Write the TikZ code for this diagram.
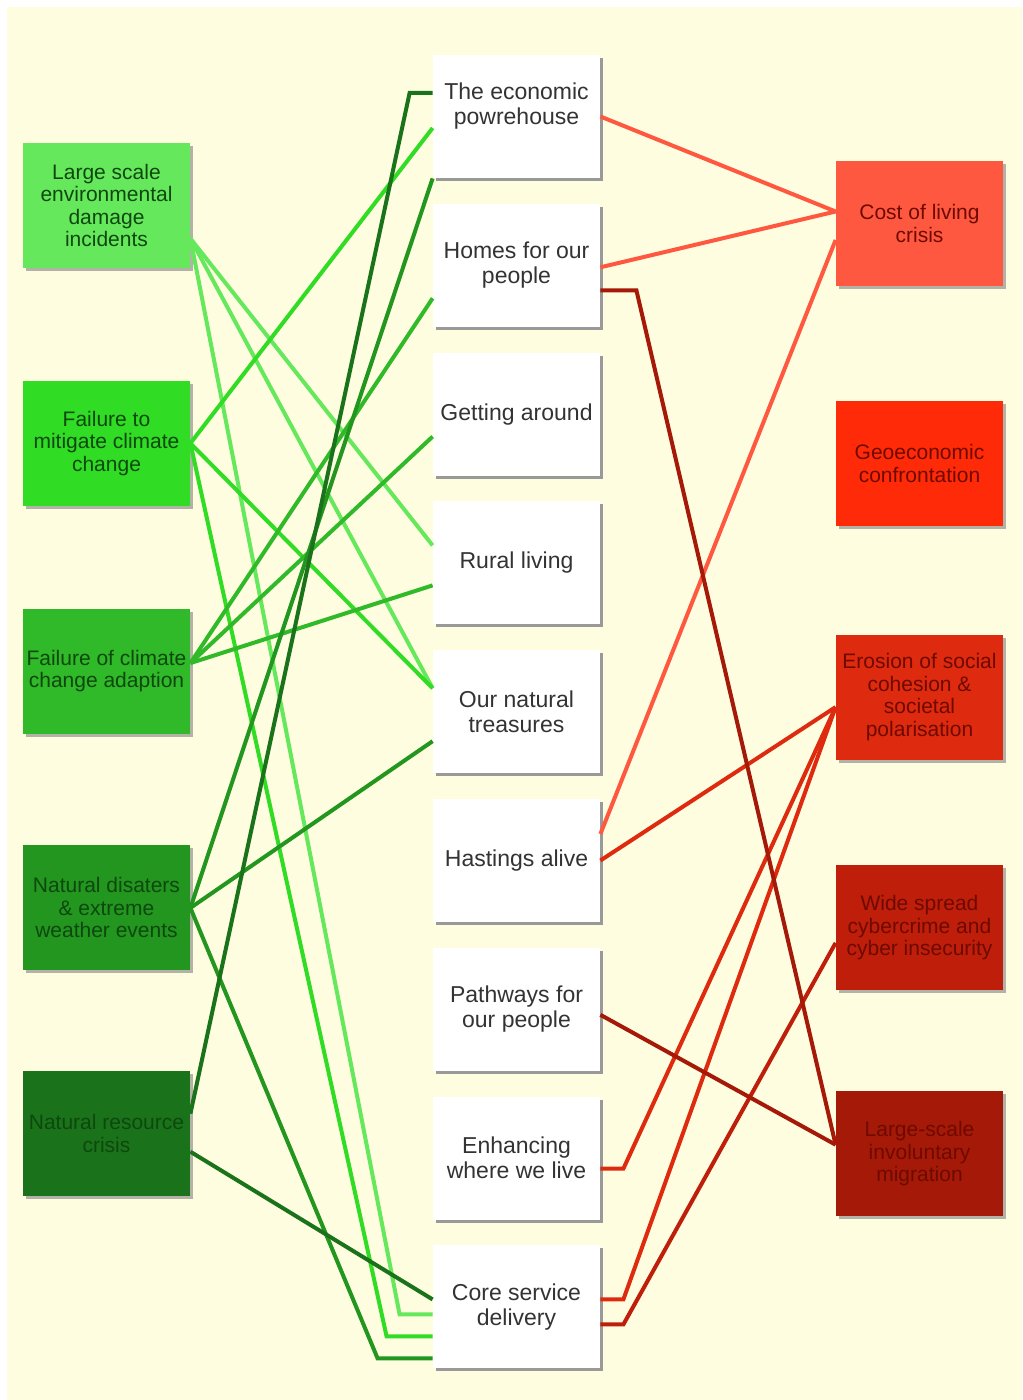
\documentclass[tikz,border=0pt]{standalone}
\usepackage{fontspec}
\setmainfont{Liberation Sans}
\usetikzlibrary{positioning, calc, shadows}
\usepackage{xcolor}
\definecolor{creamBg}{RGB}{255,253,224}
\definecolor{midText}{RGB}{51,51,51}
\definecolor{greenText}{RGB}{14,72,14}
\definecolor{redText}{RGB}{110,10,0}
\definecolor{lseGreen}{RGB}{102,232,92}
\definecolor{ftmGreen}{RGB}{48,220,36}
\definecolor{fccaGreen}{RGB}{48,185,40}
\definecolor{ndGreen}{RGB}{34,150,30}
\definecolor{nrcGreen}{RGB}{26,115,26}
\definecolor{costRed}{RGB}{255,88,64}
\definecolor{geoRed}{RGB}{255,42,8}
\definecolor{erosionRed}{RGB}{222,42,14}
\definecolor{cyberRed}{RGB}{190,30,10}
\definecolor{migrationRed}{RGB}{165,25,8}

\begin{document}
\begin{tikzpicture}[
    x=0.5pt, y=-0.5pt,
    midbox/.style={rectangle, fill=white, minimum width=83.5pt, minimum height=61.5pt, inner sep=0pt, align=center, text=midText, font=\fontsize{11.5}{12.5}\selectfont, drop shadow={shadow xshift=1.5pt, shadow yshift=-1.5pt, fill=black!40, opacity=1}},
    greenbox/.style={rectangle, minimum width=83.5pt, minimum height=62.5pt, inner sep=0pt, align=center, text=greenText, font=\fontsize{10.5}{11.25}\selectfont, drop shadow={shadow xshift=1.5pt, shadow yshift=-1.5pt, fill=black!50, opacity=0.6}},
    redbox/.style={greenbox, text=redText},
    link/.style={line width=2pt}
]
\useasboundingbox (0,0) rectangle (1022,1400);
\fill[creamBg] (7,7) rectangle (1022,1400);

% middle column
\node[midbox] (econ) at (516.5,116.5) {The economic\\powrehouse\\~};
\node[midbox, below=12.5pt of econ] (homes) {Homes for our\\people};
\node[midbox, below=12.5pt of homes] (around) {Getting around};
\node[midbox, below=12.5pt of around] (rural) {Rural living};
\node[midbox, below=12.5pt of rural] (treasures) {Our natural\\treasures};
\node[midbox, below=12.5pt of treasures] (hastings) {Hastings alive};
\node[midbox, below=12.5pt of hastings] (pathways) {Pathways for\\our people};
\node[midbox, below=12.5pt of pathways] (enhancing) {Enhancing\\where we live};
\node[midbox, below=12.5pt of enhancing] (core) {Core service\\delivery};

% environmental risks
\node[greenbox, fill=lseGreen] (lse) at (106.5,205.5) {Large scale\\environmental\\damage\\incidents};
\node[greenbox, fill=ftmGreen, below=56pt of lse] (ftm) {Failure to\\mitigate climate\\change};
\node[greenbox, fill=fccaGreen, below=51pt of ftm] (fcca) {Failure of climate\\change adaption};
\node[greenbox, fill=ndGreen, below=55.5pt of fcca] (nd) {Natural disaters\\\& extreme\\weather events};
\node[greenbox, fill=nrcGreen, below=50pt of nd] (nrc) {Natural resource\\crisis};

% societal risks
\node[redbox, fill=costRed] (cost) at (919.5,223.5) {Cost of living\\crisis};
\node[redbox, fill=geoRed, below=57pt of cost] (geo) {Geoeconomic\\confrontation};
\node[redbox, fill=erosionRed, below=54pt of geo] (erosion) {Erosion of social\\cohesion \&\\societal\\polarisation};
\node[redbox, fill=cyberRed, below=52.5pt of erosion] (cyber) {Wide spread\\cybercrime and\\cyber insecurity};
\node[redbox, fill=migrationRed, below=50pt of cyber] (migration) {Large-scale\\involuntary\\migration};

% green links
\draw[link, lseGreen] ($(lse.east)+(0,33)$) -- ($(rural.west)+(0,-17.5)$);
\draw[link, lseGreen] ($(lse.east)+(0,33)$) -- ($(treasures.west)+(0,-23.5)$);
\draw[link, lseGreen] ($(lse.east)+(0,33)$) -- ($(core.west)+(-33,7.5)$) -- ($(core.west)+(0,7.5)$);
\draw[link, ftmGreen] (ftm.east) -- ($(econ.west)+(0,11.5)$);
\draw[link, ftmGreen] (ftm.east) -- ($(treasures.west)+(0,-23.5)$);
\draw[link, ftmGreen] (ftm.east) -- ($(core.west)+(-46,29.5)$) -- ($(core.west)+(0,29.5)$);
\draw[link, fccaGreen] ($(fcca.east)+(0,-8)$) -- ($(homes.west)+(0,33)$);
\draw[link, fccaGreen] ($(fcca.east)+(0,-8)$) -- ($(around.west)+(0,22.5)$);
\draw[link, fccaGreen] ($(fcca.east)+(0,-8)$) -- ($(rural.west)+(0,22.5)$);
\draw[link, ndGreen] (nd.east) -- (econ.south west);
\draw[link, ndGreen] (nd.east) -- ($(treasures.west)+(0,29.5)$);
\draw[link, ndGreen] (nd.east) -- ($(core.west)+(-55,51.5)$) -- ($(core.west)+(0,51.5)$);
\draw[link, nrcGreen] ($(nrc.east)+(0,-20)$) -- ($(econ.west)+(-23,-23.5)$) -- ($(econ.west)+(0,-23.5)$);
\draw[link, nrcGreen] ($(nrc.east)+(0,18)$) -- ($(core.west)+(0,-7.5)$);

% red links
\draw[link, costRed] (econ.east) -- ($(cost.west)+(0,-12)$);
\draw[link, costRed] ($(homes.east)+(0,2)$) -- ($(cost.west)+(0,-12)$);
\draw[link, costRed] ($(hastings.east)+(0,-26.5)$) -- ($(cost.west)+(0,16.5)$);
\draw[link, erosionRed] (hastings.east) -- ($(erosion.west)+(0,10)$);
\draw[link, erosionRed] ($(enhancing.east)+(0,10.5)$) -- ++(23,0) -- ($(erosion.west)+(0,10)$);
\draw[link, erosionRed] ($(core.east)+(0,-7.5)$) -- ++(23,0) -- ($(erosion.west)+(0,10)$);
\draw[link, cyberRed] ($(core.east)+(0,17.5)$) -- ++(23,0) -- ($(cyber.west)+(0,15)$);
\draw[link, migrationRed] ($(homes.east)+(0,25)$) -- ++(36,0) -- ($(migration.west)+(0,-9)$);
\draw[link, migrationRed] ($(pathways.east)+(0,5.5)$) -- ($(migration.west)+(0,-9)$);
\end{tikzpicture}
\end{document}
